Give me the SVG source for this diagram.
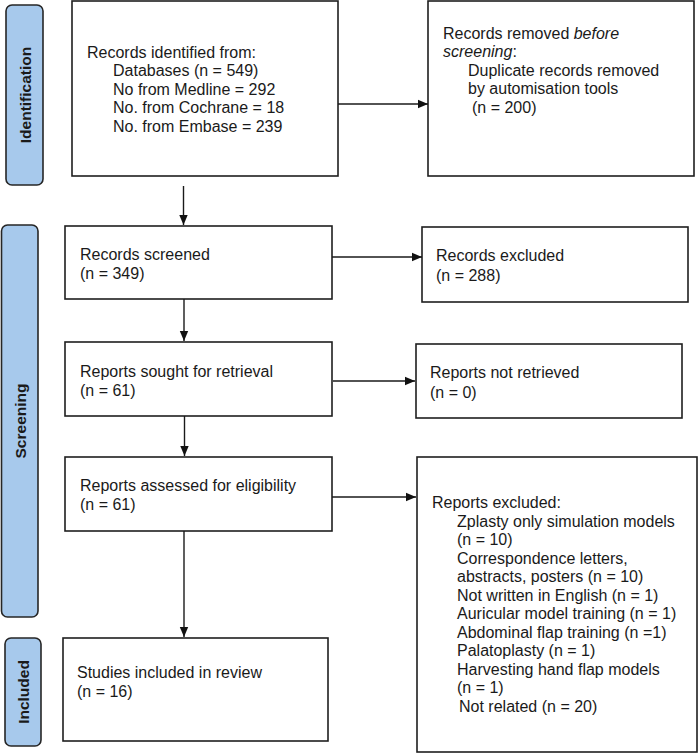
<svg xmlns="http://www.w3.org/2000/svg" width="700" height="753" viewBox="0 0 700 753">
<defs>
<style>
.box{fill:#fff;stroke:#1f1f1f;stroke-width:1.6}
.pill{fill:#a7c9ec;stroke:#262626;stroke-width:1.6}
.t{font-family:"Liberation Sans",Arial,sans-serif;font-size:16px;fill:#1a1a1a}
.pt{font-family:"Liberation Sans",Arial,sans-serif;font-size:15.5px;font-weight:bold;fill:#1a1a1a;text-anchor:middle;dominant-baseline:central}
.c{fill:none;stroke:#1a1a1a;stroke-width:1.4}
</style>
<marker id="ah" viewBox="0 0 10 10" refX="10" refY="5" markerWidth="10" markerHeight="10" markerUnits="userSpaceOnUse" orient="auto">
<path d="M0,0.8 L10,5 L0,9.2 Z" fill="#111"/>
</marker>
</defs>
<rect width="700" height="753" fill="#fff"/>

<g id="phase-identification">
<rect class="pill" x="6" y="5" width="37" height="180" rx="6"/>
<text class="pt" transform="translate(25.5,95) rotate(-90)">Identification</text>
</g>
<g id="phase-screening">
<rect class="pill" x="1.5" y="225" width="36.5" height="392" rx="6"/>
<text class="pt" transform="translate(20,421) rotate(-90)">Screening</text>
</g>
<g id="phase-included">
<rect class="pill" x="5" y="638" width="36" height="108" rx="6"/>
<text class="pt" transform="translate(23.5,692) rotate(-90)">Included</text>
</g>

<g id="records-identified">
<rect class="box" x="72" y="1" width="266" height="175"/>
<text class="t" x="87" y="57.5">Records identified from:</text>
<text class="t" x="113" y="76">Databases (n = 549)</text>
<text class="t" x="113" y="94.5">No from Medline = 292</text>
<text class="t" x="113" y="113">No. from Cochrane = 18</text>
<text class="t" x="113" y="131.5">No. from Embase = 239</text>
</g>

<g id="records-removed">
<rect class="box" x="428" y="1" width="266" height="175"/>
<text class="t" x="443" y="38.5">Records removed <tspan font-style="italic">before</tspan></text>
<text class="t" x="443" y="57"><tspan font-style="italic">screening</tspan>:</text>
<text class="t" x="468" y="75.5">Duplicate records removed</text>
<text class="t" x="468" y="94">by automisation tools</text>
<text class="t" x="472" y="112.5">(n = 200)</text>
</g>

<g id="records-screened">
<rect class="box" x="65" y="226" width="267" height="73"/>
<text class="t" x="80" y="259.5">Records screened</text>
<text class="t" x="80" y="278.5">(n = 349)</text>
</g>

<g id="records-excluded">
<rect class="box" x="422" y="227" width="266" height="75"/>
<text class="t" x="436" y="261">Records excluded</text>
<text class="t" x="436" y="280.5">(n = 288)</text>
</g>

<g id="reports-sought">
<rect class="box" x="65" y="342" width="267" height="74"/>
<text class="t" x="80" y="376.5">Reports sought for retrieval</text>
<text class="t" x="80" y="395.5">(n = 61)</text>
</g>

<g id="reports-not-retrieved">
<rect class="box" x="416" y="344" width="266" height="74"/>
<text class="t" x="430" y="378">Reports not retrieved</text>
<text class="t" x="430" y="397.5">(n = 0)</text>
</g>

<g id="reports-assessed">
<rect class="box" x="65" y="457" width="267" height="74"/>
<text class="t" x="80" y="490.5">Reports assessed for eligibility</text>
<text class="t" x="80" y="509.5">(n = 61)</text>
</g>

<g id="reports-excluded">
<rect class="box" x="417" y="457" width="280" height="295"/>
<text class="t" x="432" y="508">Reports excluded:</text>
<text class="t" x="457" y="526.5">Zplasty only simulation models</text>
<text class="t" x="457" y="545">(n = 10)</text>
<text class="t" x="457" y="563.5">Correspondence letters,</text>
<text class="t" x="457" y="582">abstracts, posters (n = 10)</text>
<text class="t" x="457" y="600.5">Not written in English (n = 1)</text>
<text class="t" x="457" y="619">Auricular model training (n = 1)</text>
<text class="t" x="457" y="637.5">Abdominal flap training (n =1)</text>
<text class="t" x="457" y="656">Palatoplasty (n = 1)</text>
<text class="t" x="457" y="674.5">Harvesting hand flap models</text>
<text class="t" x="457" y="693">(n = 1)</text>
<text class="t" x="459" y="711.5">Not related (n = 20)</text>
</g>

<g id="studies-included">
<rect class="box" x="63" y="638" width="265" height="103"/>
<text class="t" x="77" y="677.5">Studies included in review</text>
<text class="t" x="77" y="696.5">(n = 16)</text>
</g>

<g id="connectors">
<line class="c" x1="338" y1="104" x2="428" y2="104" marker-end="url(#ah)"/>
<line class="c" x1="183.5" y1="186" x2="183.5" y2="225" marker-end="url(#ah)"/>
<line class="c" x1="332" y1="257" x2="422" y2="257" marker-end="url(#ah)"/>
<line class="c" x1="184" y1="299" x2="184" y2="341" marker-end="url(#ah)"/>
<line class="c" x1="333" y1="381" x2="415" y2="381" marker-end="url(#ah)"/>
<line class="c" x1="184.5" y1="416" x2="184.5" y2="456" marker-end="url(#ah)"/>
<line class="c" x1="332" y1="497" x2="416" y2="497" marker-end="url(#ah)"/>
<line class="c" x1="184" y1="531" x2="184" y2="637" marker-end="url(#ah)"/>
</g>
</svg>
